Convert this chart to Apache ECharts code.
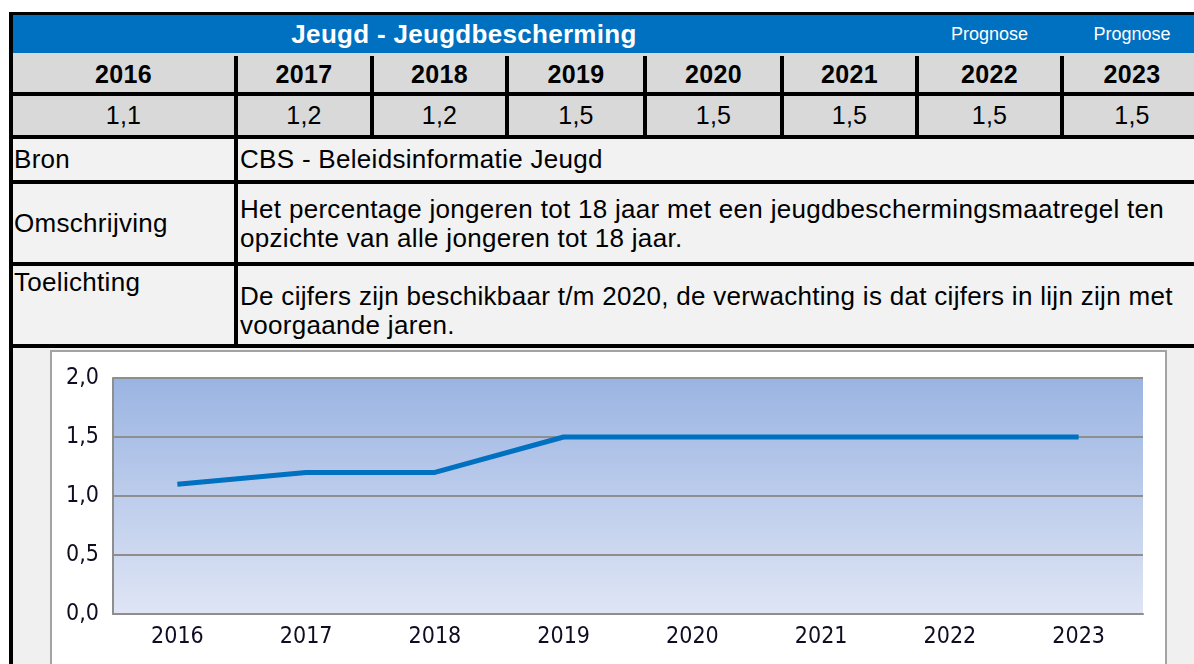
<!DOCTYPE html>
<html>
<head>
<meta charset="utf-8">
<script src="https://cdn.jsdelivr.net/npm/echarts@6/dist/echarts.min.js"></script>
<style>
body {
  margin: 0;
  width: 1194px;
  height: 664px;
  overflow: hidden;
  background: #fff;
  font-family: 'Liberation Sans', Arial, sans-serif;
  position: relative;
}
.c {
  position: absolute;
  box-sizing: border-box;
  white-space: nowrap;
  overflow: hidden;
  color: #000;
  letter-spacing: 0.3px;
}
#chart {
  position: absolute;
  left: 50px;
  top: 350px;
  width: 1117px;
  height: 330px;
  box-sizing: border-box;
  border: 2px solid #a3a3a3;
  background: #fff;
}
</style>
</head>
<body>
<div id="chart"></div>
<script>
// data
var title = 'Jeugd - Jeugdbescherming'
var years = ['2016', '2017', '2018', '2019', '2020', '2021', '2022', '2023']
var values = [1.1, 1.2, 1.2, 1.5, 1.5, 1.5, 1.5, 1.5]
var prognose = ['', '', '', '', '', '', 'Prognose', 'Prognose']
var yTicks = [0, 0.5, 1.0, 1.5, 2.0]
var rowLabels = ['Bron', 'Omschrijving', 'Toelichting']
var rowTexts = [
  ['CBS - Beleidsinformatie Jeugd'],
  ['Het percentage jongeren tot 18 jaar met een jeugdbeschermingsmaatregel ten', 'opzichte van alle jongeren tot 18 jaar.'],
  ['De cijfers zijn beschikbaar t/m 2020, de verwachting is dat cijfers in lijn zijn met', 'voorgaande jaren.']
]

function comma (v, d) {
  return v.toFixed(d).replace('.', ',')
}

// tabel opbouw
var colX = [13, 238, 374, 509, 647, 784, 919, 1064, 1204]
function cell (x, y, w, h, bg, html, css) {
  var d = document.createElement('div')
  d.className = 'c'
  d.style.left = x + 'px'
  d.style.top = y + 'px'
  d.style.width = w + 'px'
  d.style.height = h + 'px'
  d.style.background = bg
  if (css) d.style.cssText += css
  d.innerHTML = html || ''
  document.body.insertBefore(d, document.getElementById('chart'))
  return d
}
// zwarte achtergrond = randen
cell(9, 12, 1200, 700, '#000')
// titel balk
cell(13, 15, 1200, 38, '#0070c0')
cell(13, 15, colX[6] - 4 - 13, 38, 'transparent', title,
  'color:#fff;font-weight:bold;font-size:26px;line-height:38px;text-align:center;')
for (var i = 6; i < 8; i++) {
  cell(colX[i], 15, colX[i + 1] - 4 - colX[i], 38, 'transparent', prognose[i],
    'color:#fff;font-size:18px;line-height:38px;text-align:center;letter-spacing:0;')
}
cell(13, 53, 1200, 3, '#d9d9d9')
// jaren + waarden
for (var j = 0; j < years.length; j++) {
  var w = colX[j + 1] - 4 - colX[j]
  cell(colX[j], 56, w, 36, '#d9d9d9', years[j],
    'font-weight:bold;font-size:25px;line-height:36px;text-align:center;')
  cell(colX[j], 96, w, 39, '#d9d9d9', comma(values[j], 1),
    'font-size:25px;line-height:39px;text-align:center;')
}
// beschrijvende rijen
var rowY = [139, 184, 266]
var rowH = [41, 78, 78]
var labelCss = [
  'line-height:41px;', 'line-height:78px;', 'line-height:29px;padding-top:2px;'
]
var textCss = [
  'line-height:41px;', 'line-height:29px;padding-top:11px;', 'line-height:29px;padding-top:16px;'
]
for (var r = 0; r < 3; r++) {
  cell(13, rowY[r], 221, rowH[r], '#f2f2f2', rowLabels[r],
    'font-size:26px;padding-left:1px;' + labelCss[r])
  cell(238, rowY[r], 970, rowH[r], '#f2f2f2', rowTexts[r].join('<br>'),
    'font-size:26px;padding-left:2px;' + textCss[r])
}
// grafiek vlak
cell(13, 348, 1200, 400, '#f0f0f0')

var chart = echarts.init(document.getElementById('chart'))
var axisFont = "'DejaVu Sans Condensed', 'DejaVu Sans', sans-serif"
chart.setOption({
  animation: false,
  backgroundColor: '#fff',
  grid: {
    show: true,
    left: 61,
    top: 26,
    width: 1030,
    height: 236,
    borderWidth: 0,
    backgroundColor: {
      type: 'linear', x: 0, y: 0, x2: 0, y2: 1,
      colorStops: [
        { offset: 0, color: '#9ab4e2' },
        { offset: 1, color: '#dfe5f5' }
      ]
    }
  },
  xAxis: {
    type: 'category',
    data: years,
    boundaryGap: true,
    axisLine: { lineStyle: { color: '#8e8e8e', width: 2 } },
    axisTick: { show: false },
    axisLabel: {
      margin: 12,
      fontFamily: axisFont,
      fontSize: 23,
      color: '#100c22'
    }
  },
  yAxis: {
    type: 'value',
    min: yTicks[0],
    max: yTicks[yTicks.length - 1],
    interval: 0.5,
    axisLine: { show: true, lineStyle: { color: '#8e8e8e', width: 2 } },
    axisTick: { show: false },
    splitLine: { lineStyle: { color: '#8e8e8e', width: 2 } },
    axisLabel: {
      margin: 14,
      fontFamily: axisFont,
      fontSize: 23,
      color: '#100c22',
      formatter: function (v) { return comma(v, 1) }
    }
  },
  series: [{
    type: 'line',
    data: values,
    showSymbol: false,
    lineStyle: { color: '#0070c0', width: 5 }
  }]
})
</script>
</body>
</html>
